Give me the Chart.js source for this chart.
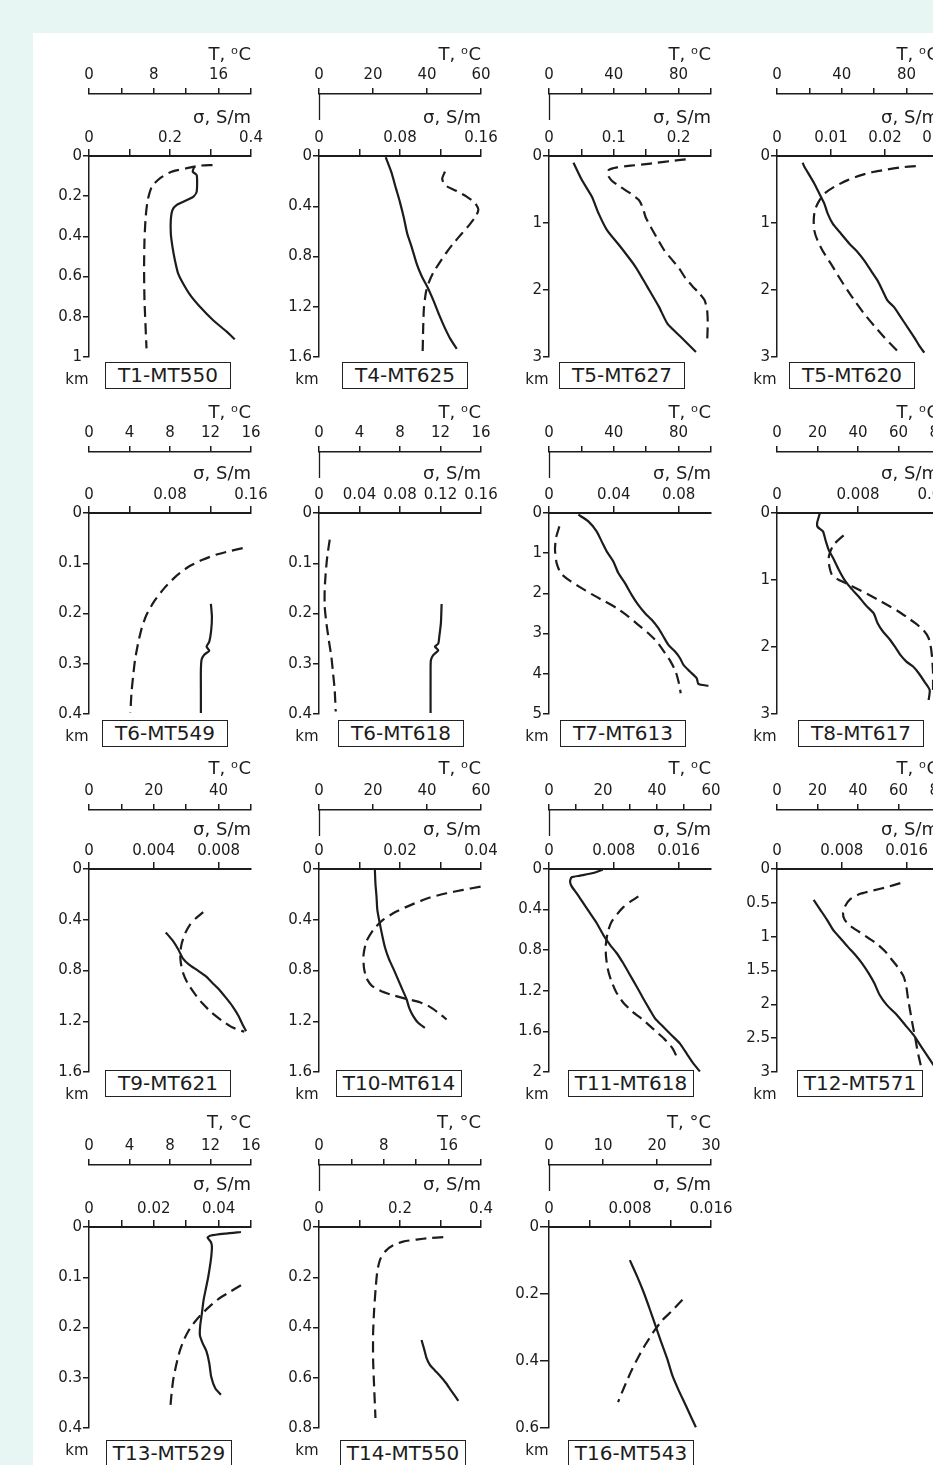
<!DOCTYPE html>
<html>
<head>
<meta charset="utf-8">
<script src="https://cdn.jsdelivr.net/npm/chart.js@4.4.1/dist/chart.umd.min.js"></script>
<style>
  html, body { margin: 0; padding: 0; }
  body {
    width: 933px; height: 1465px; overflow: hidden; position: relative;
    background: #e8f6f3; font-family: "DejaVu Sans", sans-serif; color: #1c1c1c;
  }
  #sheet { position: absolute; left: 33px; top: 33px; width: 900px; height: 1432px; background: #fff; }
  .pane { position: absolute; }
  .tag {
    position: absolute; height: 27px; width: 126px; box-sizing: border-box;
    border: 1px solid #222; background: #fff; font-size: 20px; line-height: 25px;
    text-align: center; white-space: nowrap;
  }
  .km { position: absolute; font-size: 15px; line-height: 18px; transform: translate(-50%, -50%); }
</style>
</head>
<body>
<div id="sheet"></div>
<script>
// ── Panel names ──
const names = [
  'T1-MT550', 'T4-MT625', 'T5-MT627', 'T5-MT620',
  'T6-MT549', 'T6-MT618', 'T7-MT613', 'T8-MT617',
  'T9-MT621', 'T10-MT614', 'T11-MT618', 'T12-MT571',
  'T13-MT529', 'T14-MT550', 'T16-MT543'
];

// ── Temperature profiles (solid), [T °C, depth km] ──
const t1Temp = [[13.0,0.053],[12.8,0.078],[13.3,0.095],[13.3,0.177],[12.9,0.202],[12.1,0.219],[10.8,0.244],[10.3,0.269],[10.1,0.318],[10.1,0.385],[10.3,0.451],[10.6,0.517],[11.0,0.584],[11.6,0.633],[12.5,0.692],[13.7,0.750],[15.3,0.816],[17.0,0.874],[18.0,0.912]];
const t4Temp = [[24.7,0.01],[26.8,0.129],[28.5,0.258],[29.9,0.361],[31.4,0.490],[32.7,0.619],[34.3,0.723],[36.1,0.852],[38.0,0.955],[40.5,1.058],[42.6,1.161],[44.5,1.265],[46.6,1.368],[48.7,1.458],[51.0,1.535]];
const t5aTemp = [[15.1,0.10],[20.3,0.359],[26.5,0.608],[30.6,0.857],[35.8,1.106],[44.1,1.355],[53.4,1.654],[60.7,1.953],[67.9,2.252],[73.1,2.502],[81.4,2.701],[90.7,2.925]];
const t5bTemp = [[15.8,0.10],[16.9,0.16],[20.0,0.285],[23.0,0.41],[26.1,0.56],[29.2,0.71],[31.3,0.86],[34.4,1.01],[39.5,1.16],[44.7,1.31],[49.8,1.435],[53.9,1.56],[58.0,1.71],[62.1,1.86],[65.2,2.01],[68.3,2.16],[72.4,2.26],[76.5,2.41],[80.7,2.56],[84.8,2.71],[87.9,2.835],[90.9,2.935]];
const t6aTemp = [[12.04,0.181],[12.14,0.206],[12.07,0.233],[11.88,0.256],[11.61,0.266],[11.88,0.274],[11.38,0.282],[11.12,0.292],[11.05,0.312],[11.05,0.352],[11.05,0.398]];
const t6bTemp = [[12.11,0.181],[12.04,0.219],[11.88,0.246],[11.78,0.260],[11.45,0.266],[11.78,0.273],[11.28,0.283],[11.05,0.293],[11.02,0.319],[11.02,0.398]];
const t7Temp = [[18.1,0.042],[24.3,0.208],[29.4,0.457],[32.5,0.706],[35.6,0.955],[39.7,1.204],[42.8,1.495],[46.9,1.744],[51.0,2.035],[55.1,2.284],[59.3,2.492],[63.4,2.658],[67.5,2.866],[70.6,3.073],[73.7,3.281],[77.8,3.447],[80.9,3.613],[83.0,3.779],[87.0,3.945],[91.2,4.111],[92.2,4.25],[98.4,4.302]];
const t8Temp = [[21.1,0.010],[19.8,0.150],[20.1,0.209],[22.7,0.274],[23.9,0.399],[25.5,0.548],[27.7,0.673],[30.5,0.847],[33.3,0.997],[36.5,1.121],[40.3,1.246],[44.1,1.385],[47.7,1.495],[49.7,1.645],[52.3,1.769],[55.6,1.884],[58.4,2.003],[60.9,2.118],[63.9,2.218],[67.2,2.292],[70.0,2.392],[72.8,2.517],[75.4,2.641],[74.9,2.791]];
const t9Temp = [[23.7,0.500],[25.8,0.563],[27.6,0.636],[28.9,0.702],[30.9,0.754],[33.5,0.799],[36.1,0.846],[38.1,0.898],[40.2,0.951],[42.3,1.016],[44.3,1.082],[46.2,1.160],[47.4,1.226],[48.5,1.278]];
const t10Temp = [[20.7,0.008],[20.9,0.113],[21.3,0.217],[21.6,0.322],[22.5,0.427],[23.5,0.532],[24.5,0.623],[26.0,0.715],[27.7,0.793],[29.3,0.872],[30.9,0.951],[32.4,1.024],[33.4,1.094],[34.9,1.160],[36.7,1.212],[39.2,1.252]];
const t11Temp = [[19.9,0.007],[16.4,0.040],[11.5,0.066],[8.4,0.082],[7.8,0.122],[8.4,0.171],[10.2,0.237],[12.7,0.336],[15.2,0.435],[17.7,0.534],[20.1,0.649],[22.6,0.748],[25.1,0.830],[27.5,0.929],[30.0,1.044],[32.5,1.160],[34.9,1.275],[37.4,1.390],[39.3,1.473],[42.3,1.555],[45.4,1.638],[48.5,1.720],[51.0,1.819],[53.5,1.918],[55.9,1.995]];
const t12Temp = [[18.1,0.455],[21.4,0.603],[24.7,0.751],[27.7,0.899],[31.3,1.023],[34.9,1.147],[38.7,1.270],[42.0,1.394],[45.3,1.542],[48.1,1.690],[50.7,1.863],[54.3,2.012],[59.3,2.160],[63.4,2.308],[67.5,2.456],[70.8,2.605],[74.1,2.753],[77.4,2.901]];
const t13Temp = [[15.01,0.010],[13.53,0.013],[12.04,0.017],[11.71,0.021],[12.04,0.030],[12.14,0.040],[12.07,0.060],[11.94,0.079],[11.78,0.099],[11.55,0.122],[11.32,0.145],[11.15,0.172],[10.99,0.195],[10.95,0.215],[11.22,0.231],[11.61,0.248],[11.88,0.271],[12.07,0.298],[12.47,0.321],[13.03,0.334]];
const t14Temp = [[12.66,0.450],[12.99,0.487],[13.28,0.522],[13.69,0.549],[14.31,0.571],[15.01,0.595],[15.67,0.621],[16.25,0.648],[16.78,0.672],[17.20,0.692]];
const t16Temp = [[14.97,0.099],[16.34,0.148],[17.58,0.197],[18.70,0.247],[19.75,0.296],[20.81,0.345],[21.93,0.395],[22.86,0.444],[23.91,0.484],[25.34,0.533],[27.20,0.598]];

// ── Conductivity profiles (dashed), [σ S/m, depth km] ──
const t1Cond = [[0.305,0.045],[0.274,0.048],[0.241,0.061],[0.204,0.078],[0.175,0.111],[0.155,0.153],[0.145,0.219],[0.140,0.302],[0.137,0.418],[0.136,0.551],[0.137,0.716],[0.142,0.957]];
const t4Cond = [[0.1244,0.124],[0.1217,0.181],[0.1244,0.232],[0.1359,0.279],[0.1458,0.323],[0.1541,0.374],[0.1574,0.426],[0.1551,0.477],[0.1491,0.542],[0.1409,0.619],[0.1326,0.697],[0.1254,0.774],[0.1188,0.852],[0.1128,0.929],[0.1085,1.006],[0.1056,1.084],[0.1036,1.213],[0.1029,1.368],[0.1023,1.59]];
const t5aCond = [[0.211,0.05],[0.188,0.075],[0.167,0.10],[0.146,0.125],[0.126,0.145],[0.105,0.17],[0.092,0.21],[0.090,0.27],[0.097,0.37],[0.110,0.46],[0.126,0.56],[0.139,0.66],[0.145,0.78],[0.149,0.91],[0.157,1.06],[0.167,1.23],[0.178,1.41],[0.190,1.55],[0.201,1.68],[0.211,1.83],[0.222,1.95],[0.232,2.05],[0.240,2.15],[0.244,2.30],[0.245,2.50],[0.244,2.78]];
const t5bCond = [[0.0257,0.15],[0.0230,0.17],[0.0205,0.20],[0.0180,0.235],[0.0156,0.285],[0.0131,0.36],[0.0106,0.46],[0.0088,0.56],[0.0077,0.685],[0.0070,0.81],[0.0068,0.96],[0.0069,1.11],[0.0075,1.26],[0.0086,1.435],[0.0100,1.61],[0.0115,1.81],[0.0131,2.01],[0.0146,2.185],[0.0162,2.36],[0.0180,2.535],[0.0199,2.71],[0.0214,2.835],[0.0223,2.91]];
const t6aCond = [[0.1518,0.070],[0.1386,0.076],[0.1254,0.083],[0.1122,0.093],[0.0990,0.106],[0.0858,0.126],[0.0742,0.150],[0.0643,0.176],[0.0567,0.203],[0.0521,0.229],[0.0485,0.259],[0.0455,0.292],[0.0435,0.326],[0.0419,0.359],[0.0409,0.397]];
const t6bCond = [[0.0106,0.053],[0.0082,0.086],[0.0066,0.120],[0.0056,0.153],[0.0056,0.186],[0.0073,0.219],[0.0096,0.252],[0.0122,0.286],[0.0139,0.319],[0.0155,0.352],[0.0165,0.395]];
const t7Cond = [[0.0064,0.332],[0.0043,0.623],[0.0037,0.914],[0.0047,1.246],[0.0072,1.495],[0.0126,1.678],[0.0191,1.844],[0.0263,2.018],[0.0346,2.201],[0.0418,2.367],[0.0490,2.575],[0.0551,2.782],[0.0613,2.990],[0.0665,3.198],[0.0710,3.447],[0.0751,3.696],[0.0782,3.945],[0.0802,4.236],[0.0813,4.485]];
const t8Cond = [[0.00658,0.334],[0.00609,0.399],[0.00560,0.473],[0.00527,0.573],[0.00510,0.673],[0.00517,0.797],[0.00543,0.922],[0.00609,0.997],[0.00691,1.056],[0.00790,1.131],[0.00889,1.206],[0.00988,1.286],[0.01086,1.370],[0.01185,1.455],[0.01284,1.555],[0.01366,1.645],[0.01449,1.754],[0.01498,1.869],[0.01521,2.018],[0.01534,2.193],[0.01541,2.392],[0.01541,2.641]];
const t9Cond = [[0.00705,0.340],[0.00660,0.388],[0.00623,0.440],[0.00594,0.505],[0.00573,0.584],[0.00563,0.663],[0.00567,0.741],[0.00581,0.820],[0.00608,0.898],[0.00649,0.977],[0.00697,1.055],[0.00759,1.134],[0.00825,1.199],[0.00891,1.252],[0.00959,1.283]];
const t10Cond = [[0.0399,0.139],[0.0356,0.165],[0.0315,0.191],[0.0274,0.225],[0.0233,0.275],[0.0191,0.335],[0.0158,0.401],[0.0134,0.479],[0.0117,0.571],[0.0110,0.676],[0.0111,0.780],[0.0117,0.859],[0.0130,0.919],[0.0154,0.964],[0.0183,0.995],[0.0216,1.024],[0.0249,1.050],[0.0274,1.087],[0.0297,1.139],[0.0315,1.186]];
const t11Cond = [[0.01103,0.270],[0.01008,0.320],[0.00918,0.376],[0.00844,0.442],[0.00774,0.517],[0.00733,0.600],[0.00712,0.682],[0.00700,0.764],[0.00704,0.863],[0.00724,0.979],[0.00765,1.094],[0.00827,1.209],[0.00918,1.318],[0.01033,1.407],[0.01165,1.489],[0.01296,1.582],[0.01420,1.671],[0.01527,1.769],[0.01597,1.885]];
const t12Cond = [[0.01523,0.208],[0.01358,0.267],[0.01193,0.316],[0.01029,0.366],[0.00905,0.445],[0.00844,0.544],[0.00815,0.652],[0.00835,0.751],[0.00905,0.840],[0.01008,0.924],[0.01132,1.023],[0.01235,1.107],[0.01337,1.221],[0.01420,1.344],[0.01502,1.468],[0.01564,1.591],[0.01597,1.740],[0.01617,1.913],[0.01646,2.110],[0.01675,2.308],[0.01708,2.506],[0.01737,2.703],[0.01770,2.876],[0.01790,2.99]];
const t13Cond = [[0.0469,0.116],[0.0435,0.129],[0.0402,0.142],[0.0371,0.159],[0.0345,0.175],[0.0325,0.190],[0.0306,0.208],[0.0292,0.226],[0.0281,0.245],[0.0273,0.264],[0.0266,0.284],[0.0260,0.304],[0.0256,0.324],[0.0253,0.344],[0.0251,0.360]];
const t14Cond = [[0.3068,0.040],[0.2738,0.044],[0.2408,0.050],[0.2078,0.058],[0.1831,0.073],[0.1649,0.095],[0.1518,0.126],[0.1443,0.172],[0.1402,0.238],[0.1361,0.331],[0.1336,0.423],[0.1336,0.529],[0.1361,0.635],[0.1394,0.760]];
const t16Cond = [[0.01318,0.217],[0.01219,0.249],[0.01120,0.278],[0.01037,0.311],[0.00954,0.350],[0.00888,0.385],[0.00822,0.424],[0.00765,0.462],[0.00722,0.493],[0.00682,0.523]];

const tempCurves = [t1Temp, t4Temp, t5aTemp, t5bTemp, t6aTemp, t6bTemp, t7Temp, t8Temp, t9Temp, t10Temp, t11Temp, t12Temp, t13Temp, t14Temp, t16Temp];
const condCurves = [t1Cond, t4Cond, t5aCond, t5bCond, t6aCond, t6bCond, t7Cond, t8Cond, t9Cond, t10Cond, t11Cond, t12Cond, t13Cond, t14Cond, t16Cond];

// ── Axis ticks and labels ('' = tick mark without label) ──
const tempTicks = [
  [0,4,8,12,16,20], [0,20,40,60], [0,20,40,60,80,100], [0,20,40,60,80,100],
  [0,4,8,12,16], [0,4,8,12,16], [0,20,40,60,80,100], [0,20,40,60,80],
  [0,10,20,30,40,50], [0,20,40,60], [0,10,20,30,40,50,60], [0,20,40,60,80],
  [0,4,8,12,16], [0,4,8,12,16,20], [0,10,20,30]
];
const tempLabels = [
  ['0','','8','','16',''], ['0','20','40','60'], ['0','','40','','80',''], ['0','','40','','80',''],
  ['0','4','8','12','16'], ['0','4','8','12','16'], ['0','','40','','80',''], ['0','20','40','60','80'],
  ['0','','20','','40',''], ['0','20','40','60'], ['0','','20','','40','','60'], ['0','20','40','60','80'],
  ['0','4','8','12','16'], ['0','','8','','16',''], ['0','10','20','30']
];
const condMax = [0.4, 0.16, 0.25, 0.03, 0.16, 0.16, 0.1, 0.016, 0.01, 0.04, 0.02, 0.02, 0.05, 0.4, 0.016];
const condTicks = [
  [0,0.1,0.2,0.3,0.4], [0,0.04,0.08,0.12,0.16], [0,0.05,0.1,0.15,0.2,0.25], [0,0.01,0.02,0.03],
  [0,0.04,0.08,0.12,0.16], [0,0.04,0.08,0.12,0.16], [0,0.04,0.08], [0,0.008,0.016],
  [0,0.004,0.008], [0,0.01,0.02,0.03,0.04], [0,0.008,0.016], [0,0.008,0.016],
  [0,0.01,0.02,0.03,0.04,0.05], [0,0.1,0.2,0.3,0.4], [0,0.004,0.008,0.012,0.016]
];
const condLabels = [
  ['0','','0.2','','0.4'], ['0','','0.08','','0.16'], ['0','','0.1','','0.2',''], ['0','0.01','0.02','0.03'],
  ['0','','0.08','','0.16'], ['0','0.04','0.08','0.12','0.16'], ['0','0.04','0.08'], ['0','0.008','0.016'],
  ['0','0.004','0.008'], ['0','','0.02','','0.04'], ['0','0.008','0.016'], ['0','0.008','0.016'],
  ['0','','0.02','','0.04',''], ['0','','0.2','','0.4'], ['0','','0.008','','0.016']
];
const depthTicks = [
  [0,0.2,0.4,0.6,0.8,1], [0,0.4,0.8,1.2,1.6], [0,1,2,3], [0,1,2,3],
  [0,0.1,0.2,0.3,0.4], [0,0.1,0.2,0.3,0.4], [0,1,2,3,4,5], [0,1,2,3],
  [0,0.4,0.8,1.2,1.6], [0,0.4,0.8,1.2,1.6], [0,0.4,0.8,1.2,1.6,2], [0,0.5,1,1.5,2,2.5,3],
  [0,0.1,0.2,0.3,0.4], [0,0.2,0.4,0.6,0.8], [0,0.2,0.4,0.6]
];
const depthLabels = [
  ['0','0.2','0.4','0.6','0.8','1'], ['0','0.4','0.8','1.2','1.6'], ['0','1','2','3'], ['0','1','2','3'],
  ['0','0.1','0.2','0.3','0.4'], ['0','0.1','0.2','0.3','0.4'], ['0','1','2','3','4','5'], ['0','1','2','3'],
  ['0','0.4','0.8','1.2','1.6'], ['0','0.4','0.8','1.2','1.6'], ['0','0.4','0.8','1.2','1.6','2'], ['0','0.5','1','1.5','2','2.5','3'],
  ['0','0.1','0.2','0.3','0.4'], ['0','0.2','0.4','0.6','0.8'], ['0','0.2','0.4','0.6']
];

// ── Layout (pixels) ──
const colX = [89, 319, 549, 777];
const rowT = [94, 452, 810, 1165];     // temperature axis line
const rowS = [156, 513, 869, 1227];    // conductivity axis line (depth 0)
const rowB = [357, 714, 1072, 1428];   // depth axis bottom
const rowTag = [362, 720, 1070, 1440];
const titleGapT = [39, 39, 41, 42];
const titleGapS = [38, 39, 39, 42];
const place = [[0,0],[0,1],[0,2],[0,3],[1,0],[1,1],[1,2],[1,3],[2,0],[2,1],[2,2],[2,3],[3,0],[3,1],[3,2]];
const tagDx = [16, 23, 10, 12, 13, 19, 11, 21, 16, 17, 19, 20, 17, 21, 19];
const linked = [false, true, true, false, false, true, true, false, false, true, true, false, false, true, true];

const PLOT_W = 162, Y_W = 50, T_H = 55, PAD_R = 30, PAD_B = 14;
const INK = '#1c1c1c';
const TICK_FONT = 15, TITLE_FONT = 18;

Chart.defaults.font.family = '"DejaVu Sans", sans-serif';
Chart.defaults.color = INK;

// short vertical stub under the T axis origin, as in the original drawing
const stubPlugin = {
  id: 'stub',
  afterDraw(chart, args, opts) {
    if (!opts.show) return;
    const s = chart.scales.tmp;
    const x = Math.round(s.getPixelForValue(0)) + 0.5;
    const ctx = chart.ctx;
    ctx.save();
    ctx.strokeStyle = INK;
    ctx.lineWidth = 1.3;
    ctx.beginPath();
    ctx.moveTo(x, s.bottom);
    ctx.lineTo(x, s.bottom + 26);
    ctx.stroke();
    ctx.restore();
  }
};

function topAxis(vals, labels, max, weight, boxH, title, titlePad, tickLen, tickPad, lineW) {
  return {
    type: 'linear', axis: 'x', position: 'top', weight, min: 0, max,
    afterBuildTicks: s => { s.ticks = vals.map(v => ({ value: v })); },
    afterFit: s => { s.height = boxH; },
    ticks: {
      autoSkip: false, maxRotation: 0, padding: tickPad, color: INK,
      font: { size: TICK_FONT }, callback: (v, k) => labels[k]
    },
    grid: { drawOnChartArea: false, drawTicks: true, tickLength: tickLen, color: INK, lineWidth: 1.5 },
    border: { display: true, color: INK, width: lineW },
    title: {
      display: true, text: title, align: 'end', color: INK,
      font: { size: TITLE_FONT }, padding: { top: titlePad, bottom: 0 }
    }
  };
}

names.forEach((name, i) => {
  const [r, c] = place[i];
  const x0 = colX[c];
  const top = rowT[r] - T_H;
  const w = Y_W + PLOT_W + PAD_R;
  const h = rowB[r] - top + PAD_B;
  const lineH = TITLE_FONT * 1.2;
  const sH = rowS[r] - rowT[r];
  const padT = T_H - titleGapT[r] - lineH / 2;
  const padS = sH - titleGapS[r] - lineH / 2;

  const pane = document.createElement('div');
  pane.className = 'pane';
  pane.style.cssText = `left:${x0 - Y_W}px;top:${top}px;width:${w}px;height:${h}px`;
  const cv = document.createElement('canvas');
  cv.width = w; cv.height = h;
  cv.style.width = w + 'px'; cv.style.height = h + 'px';
  pane.appendChild(cv);
  document.body.appendChild(pane);

  const dT = depthTicks[i];
  const tTitle = r < 3 ? 'T, \u1D52C' : 'T, \u00B0C';

  new Chart(cv, {
    type: 'scatter',
    data: {
      datasets: [
        {
          label: 'T', xAxisID: 'tmp', yAxisID: 'y',
          data: tempCurves[i].map(([x, y]) => ({ x, y })),
          showLine: true, borderColor: INK, borderWidth: 2.2, pointRadius: 0, tension: 0.2, fill: false
        },
        {
          label: 'σ', xAxisID: 'sig', yAxisID: 'y',
          data: condCurves[i].map(([x, y]) => ({ x, y })),
          showLine: true, borderColor: INK, borderWidth: 2.2, borderDash: [11, 6],
          pointRadius: 0, tension: 0.2, fill: false
        }
      ]
    },
    options: {
      responsive: false,
      animation: false,
      events: [],
      layout: { padding: { left: 0, top: 0, right: PAD_R, bottom: PAD_B } },
      plugins: { legend: { display: false }, tooltip: { enabled: false }, stub: { show: linked[i] } },
      scales: {
        tmp: topAxis(tempTicks[i], tempLabels[i], tempTicks[i][tempTicks[i].length - 1], 10, T_H,
                     tTitle, padT, 6, 4, 1.5),
        sig: topAxis(condTicks[i], condLabels[i], condMax[i], 5, sH,
                     'σ, S/m', padS, 7, 2, 2),
        y: {
          type: 'linear', axis: 'y', position: 'left', reverse: true, min: 0, max: dT[dT.length - 1],
          afterBuildTicks: s => { s.ticks = dT.map(v => ({ value: v })); },
          afterFit: s => { s.width = Y_W; },
          ticks: {
            autoSkip: false, padding: 1, color: INK, font: { size: TICK_FONT },
            callback: (v, k) => depthLabels[i][k]
          },
          grid: { drawOnChartArea: false, tickLength: i === 14 ? 9 : 6, color: INK, lineWidth: 1.5 },
          border: { display: true, color: INK, width: 1.5 }
        }
      }
    },
    plugins: [stubPlugin]
  });

  const tag = document.createElement('div');
  tag.className = 'tag';
  tag.style.left = (x0 + tagDx[i]) + 'px';
  tag.style.top = rowTag[r] + 'px';
  tag.textContent = name;
  document.body.appendChild(tag);

  const km = document.createElement('div');
  km.className = 'km';
  km.style.left = (x0 - 12) + 'px';
  km.style.top = (rowB[r] + 22) + 'px';
  km.textContent = 'km';
  document.body.appendChild(km);
});
</script>
</body>
</html>
